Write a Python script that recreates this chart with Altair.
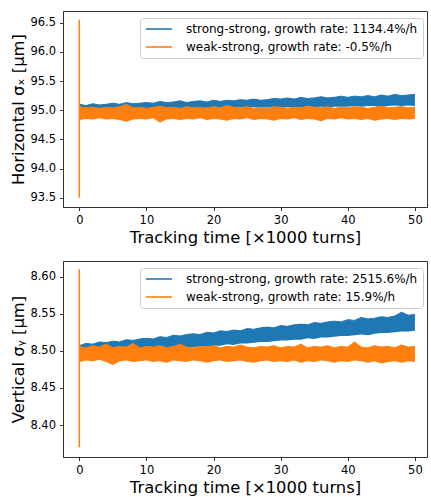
import altair as alt
import pandas as pd

# tracking time in units of 1000 turns
t_vals = list(range(51))

# ---- horizontal beam size (um), envelope of the noisy traces ----
ss_x_hi = [95.10, 95.08, 95.11, 95.09, 95.10, 95.12, 95.10, 95.13, 95.11, 95.12,
           95.13, 95.12, 95.15, 95.13, 95.14, 95.16, 95.13, 95.15, 95.16, 95.14,
           95.17, 95.15, 95.17, 95.16, 95.18, 95.17, 95.19, 95.17, 95.18, 95.20,
           95.19, 95.21, 95.19, 95.22, 95.20, 95.21, 95.23, 95.21, 95.22, 95.24,
           95.22, 95.24, 95.23, 95.25, 95.23, 95.26, 95.24, 95.27, 95.25, 95.26,
           95.27]
ss_x_lo = [94.99, 95.00, 94.99, 95.00, 95.01, 95.00, 95.01, 95.00, 95.01, 95.02,
           95.01, 95.02, 95.01, 95.02, 95.03, 95.02, 95.03, 95.02, 95.03, 95.04,
           95.03, 95.04, 95.03, 95.04, 95.05, 95.04, 95.05, 95.04, 95.05, 95.05,
           95.04, 95.05, 95.04, 95.05, 95.06, 95.05, 95.06, 95.05, 95.06, 95.06,
           95.06, 95.07, 95.06, 95.07, 95.07, 95.06, 95.07, 95.08, 95.07, 95.08,
           95.07]
ws_x_hi = [95.06, 95.04, 95.05, 95.03, 95.05, 95.04, 95.06, 95.10, 95.04, 95.05,
           95.03, 95.05, 95.07, 95.04, 95.05, 95.03, 95.06, 95.04, 95.05, 95.03,
           95.06, 95.04, 95.08, 95.05, 95.04, 95.06, 95.03, 95.05, 95.04, 95.06,
           95.05, 95.03, 95.05, 95.04, 95.07, 95.05, 95.04, 95.06, 95.03, 95.05,
           95.04, 95.06, 95.05, 95.03, 95.05, 95.07, 95.04, 95.05, 95.06, 95.04,
           95.05]
ws_x_lo = [94.83, 94.85, 94.84, 94.86, 94.84, 94.85, 94.83, 94.80, 94.84, 94.85,
           94.84, 94.86, 94.79, 94.84, 94.85, 94.83, 94.85, 94.84, 94.86, 94.83,
           94.85, 94.84, 94.82, 94.85, 94.84, 94.86, 94.83, 94.85, 94.84, 94.82,
           94.85, 94.84, 94.86, 94.83, 94.85, 94.84, 94.81, 94.85, 94.84, 94.86,
           94.84, 94.85, 94.83, 94.85, 94.82, 94.84, 94.85, 94.83, 94.85, 94.84,
           94.85]
spike_x = [93.50, 96.55]

# ---- vertical beam size (um) ----
ss_y_hi = [8.507, 8.510, 8.509, 8.512, 8.511, 8.513, 8.512, 8.515, 8.514, 8.516,
           8.517, 8.516, 8.519, 8.518, 8.521, 8.520, 8.522, 8.523, 8.522, 8.525,
           8.524, 8.527, 8.526, 8.528, 8.527, 8.530, 8.529, 8.531, 8.532, 8.531,
           8.534, 8.533, 8.535, 8.536, 8.535, 8.538, 8.537, 8.539, 8.540, 8.539,
           8.542, 8.541, 8.545, 8.543, 8.544, 8.546, 8.545, 8.547, 8.552, 8.548,
           8.549]
ss_y_lo = [8.495, 8.494, 8.496, 8.495, 8.497, 8.497, 8.498, 8.498, 8.500, 8.499,
           8.501, 8.500, 8.502, 8.502, 8.503, 8.504, 8.504, 8.505, 8.506, 8.506,
           8.507, 8.507, 8.509, 8.508, 8.510, 8.510, 8.511, 8.512, 8.512, 8.513,
           8.514, 8.514, 8.515, 8.515, 8.517, 8.516, 8.518, 8.518, 8.519, 8.520,
           8.520, 8.521, 8.522, 8.521, 8.523, 8.524, 8.524, 8.525, 8.526, 8.526,
           8.527]
ws_y_hi = [8.506, 8.504, 8.507, 8.505, 8.509, 8.504, 8.506, 8.505, 8.510, 8.504,
           8.506, 8.505, 8.507, 8.504, 8.506, 8.509, 8.505, 8.504, 8.506, 8.505,
           8.507, 8.504, 8.506, 8.505, 8.508, 8.505, 8.504, 8.506, 8.505, 8.507,
           8.504, 8.506, 8.505, 8.509, 8.504, 8.506, 8.505, 8.507, 8.504, 8.506,
           8.505, 8.512, 8.505, 8.504, 8.507, 8.505, 8.506, 8.504, 8.508, 8.505,
           8.506]
ws_y_lo = [8.485, 8.487, 8.486, 8.488, 8.485, 8.481, 8.486, 8.487, 8.485, 8.486,
           8.487, 8.485, 8.486, 8.484, 8.487, 8.486, 8.485, 8.487, 8.486, 8.484,
           8.486, 8.487, 8.485, 8.486, 8.487, 8.485, 8.484, 8.486, 8.487, 8.485,
           8.486, 8.485, 8.487, 8.484, 8.486, 8.485, 8.487, 8.486, 8.484, 8.486,
           8.485, 8.487, 8.486, 8.484, 8.486, 8.483, 8.485, 8.486, 8.484, 8.486,
           8.485]
spike_y = [8.370, 8.610]

labels_x = ["strong-strong, growth rate: 1134.4%/h", "weak-strong, growth rate: -0.5%/h"]
labels_y = ["strong-strong, growth rate: 2515.6%/h", "weak-strong, growth rate: 15.9%/h"]
colors = ["#1f77b4", "#ff7f0e"]

x_ticks = [0, 10, 20, 30, 40, 50]
y_ticks_x = [93.5, 94.0, 94.5, 95.0, 95.5, 96.0, 96.5]
y_ticks_y = [8.40, 8.45, 8.50, 8.55, 8.60]

FONT = "DejaVu Sans"
W, H = 364, 196


def panel(ss_lo, ss_hi, ws_lo, ws_hi, spike, labels, ydom, yticks, yfmt, ytitle):
    df = pd.DataFrame({
        "t": t_vals + t_vals,
        "lo": ss_lo + ws_lo,
        "hi": ss_hi + ws_hi,
        "series": [labels[0]] * len(t_vals) + [labels[1]] * len(t_vals),
    })
    sp = pd.DataFrame({"t": [0], "y1": [spike[0]], "y2": [spike[1]]})
    xs = alt.Scale(domain=[-2.43, 51.8], nice=False, zero=False)
    ys = alt.Scale(domain=ydom, nice=False, zero=False)
    xax = alt.Axis(values=x_ticks, format="d", title="Tracking time [×1000 turns]")
    yax = alt.Axis(values=yticks, format=yfmt, title=ytitle, labelOverlap=False)
    X = alt.X("t:Q", scale=xs, axis=xax)
    base = alt.Chart(df)
    a_ss = base.transform_filter(alt.datum.series == labels[0]).mark_area(
        color=colors[0], opacity=1, clip=True
    ).encode(x=X, y=alt.Y("lo:Q", scale=ys, axis=yax), y2="hi:Q")
    a_ws = base.transform_filter(alt.datum.series == labels[1]).mark_area(
        color=colors[1], opacity=1, clip=True
    ).encode(x=X, y=alt.Y("lo:Q", scale=ys, axis=yax), y2="hi:Q")
    ln = base.mark_line(strokeWidth=1, clip=True).encode(
        x=X,
        y=alt.Y("hi:Q", scale=ys, axis=yax),
        color=alt.Color(
            "series:N",
            scale=alt.Scale(domain=labels, range=colors),
            legend=alt.Legend(
                title=None, orient="none", legendX=77, legendY=7,
                symbolType="M-2.6,0H2.6", symbolSize=100, symbolStrokeWidth=1.6,
                symbolOffset=8, labelFontSize=12.0,
                labelFont=FONT, labelColor="#000", labelLimit=0,
                fillColor="white", strokeColor="#cccccc", cornerRadius=3,
                padding=5, rowPadding=6, labelOffset=21,
            ),
        ),
    )
    spk = alt.Chart(sp).mark_rule(color=colors[1], strokeWidth=1.5).encode(
        x=X, y=alt.Y("y1:Q", scale=ys, axis=yax), y2="y2:Q"
    )
    return alt.layer(a_ss, a_ws, ln, spk).properties(width=W, height=H)


top = panel(ss_x_lo, ss_x_hi, ws_x_lo, ws_x_hi, spike_x, labels_x,
            [93.34, 96.70], y_ticks_x, ".1f", "Horizontal σₓ [μm]")
bot = panel(ss_y_lo, ss_y_hi, ws_y_lo, ws_y_hi, spike_y, labels_y,
            [8.357, 8.621], y_ticks_y, ".2f", "Vertical σᵧ [μm]")

chart = alt.vconcat(top, bot, spacing=14).resolve_scale(color="independent").resolve_legend(
    color="independent"
).properties(
    padding={"left": 10, "top": 10, "right": 1, "bottom": 0}, background="white"
).configure(font=FONT).configure_view(
    stroke="#333", strokeWidth=1
).configure_axis(
    grid=False, domainColor="#333", tickColor="#333", tickSize=3.5, labelFontSize=11.5,
    labelFont=FONT, labelColor="#000", titleFont=FONT, titleFontSize=16.4,
    titleFontWeight="normal", titleColor="#000", labelPadding=4, titlePadding=3,
    labelFlush=False,
).configure_axisY(labelOverlap=False)

chart.save("out.html", embed_options={"renderer": "svg", "actions": False})
